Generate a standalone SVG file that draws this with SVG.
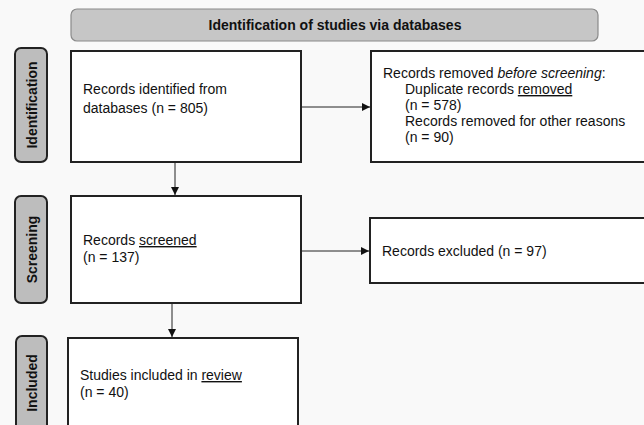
<svg xmlns="http://www.w3.org/2000/svg" width="644" height="425" viewBox="0 0 644 425">
<defs>
<style>
text{font-family:"Liberation Sans",Arial,sans-serif;font-size:14px;fill:#111}
.box{fill:#fff;stroke:#222;stroke-width:2}
.side{fill:#bdbdbd;stroke:#222;stroke-width:2}
.sidet{font-weight:bold;font-size:14px}
.conn{stroke:#222;stroke-width:1;fill:none}
</style>
<marker id="ah" viewBox="0 0 10 10" refX="10" refY="5" markerWidth="8" markerHeight="8" markerUnits="userSpaceOnUse" orient="auto">
<path d="M0,0 L10,5 L0,10 z" fill="#111"/>
</marker>
</defs>
<rect width="644" height="425" fill="#f9f9f9"/>
<g id="header">
<rect x="71" y="9" width="527" height="32" rx="6" fill="#c6c6c6" stroke="#8a8a8a" stroke-width="1.2"/>
<text x="335" y="30" text-anchor="middle" font-weight="bold">Identification of studies via databases</text>
</g>
<g id="side-identification">
<rect class="side" x="15" y="48" width="32" height="114" rx="6"/>
<text class="sidet" transform="translate(37,105) rotate(-90)" text-anchor="middle">Identification</text>
</g>
<g id="side-screening">
<rect class="side" x="15" y="196" width="32" height="107" rx="6"/>
<text class="sidet" transform="translate(37,249.5) rotate(-90)" text-anchor="middle">Screening</text>
</g>
<g id="side-included">
<rect class="side" x="16" y="336" width="31" height="100" rx="6"/>
<text class="sidet" transform="translate(37,383) rotate(-90)" text-anchor="middle">Included</text>
</g>
<g id="records-identified">
<rect class="box" x="71" y="51" width="230" height="111"/>
<text x="83" y="94">Records identified from</text>
<text x="83" y="113">databases (n = 805)</text>
</g>
<g id="records-removed">
<rect class="box" x="371" y="51" width="280" height="111"/>
<text x="383" y="78">Records removed <tspan font-style="italic">before screening</tspan>:</text>
<text x="405" y="94">Duplicate records <tspan text-decoration="underline">removed</tspan></text>
<text x="405" y="110">(n = 578)</text>
<text x="405" y="126">Records removed for other reasons</text>
<text x="405" y="142">(n = 90)</text>
</g>
<g id="records-screened">
<rect class="box" x="71" y="196" width="230" height="107"/>
<text x="83" y="245">Records <tspan text-decoration="underline">screened</tspan></text>
<text x="83" y="262">(n = 137)</text>
</g>
<g id="records-excluded">
<rect class="box" x="370" y="218" width="281" height="65"/>
<text x="382" y="256">Records excluded (n = 97)</text>
</g>
<g id="studies-included">
<rect class="box" x="68" y="338" width="230" height="100"/>
<text x="80" y="380">Studies included in <tspan text-decoration="underline">review</tspan></text>
<text x="80" y="397">(n = 40)</text>
</g>
<g id="connectors">
<line class="conn" x1="301" y1="107" x2="370" y2="107" marker-end="url(#ah)"/>
<line class="conn" x1="175" y1="162" x2="175" y2="195" marker-end="url(#ah)"/>
<line class="conn" x1="301" y1="251" x2="369" y2="251" marker-end="url(#ah)"/>
<line class="conn" x1="172" y1="303" x2="172" y2="337" marker-end="url(#ah)"/>
</g>
</svg>
